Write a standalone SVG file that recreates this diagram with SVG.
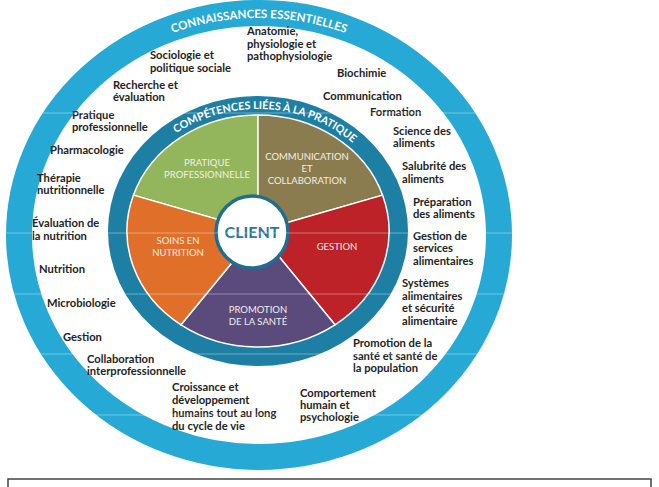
<svg xmlns="http://www.w3.org/2000/svg" width="659" height="487" viewBox="0 0 659 487">
<defs>
<style>
.lbl{font-family:Lato,"Open Sans","Liberation Sans",sans-serif;font-weight:bold;font-size:11.2px;fill:#232323}
.pie{font-family:Lato,"Open Sans","Liberation Sans",sans-serif;font-size:9.5px;fill:#f3f0e2;text-anchor:middle}
.arc{font-family:Lato,"Open Sans","Liberation Sans",sans-serif;font-weight:bold;fill:#ffffff}
.slice{stroke:#ffffff;stroke-width:1.5;stroke-linejoin:round}
.scan{stroke:#ffffff;stroke-width:1;opacity:0.35}
</style>
<path id="outerArc" d="M 23 235 A 236 217 0 0 1 495 235"/>
<path id="innerArc" d="M 121 231 A 137 122 0 0 1 395 231"/>
</defs>
<rect width="659" height="487" fill="#ffffff"/>

<g id="connaissances-ring">
<ellipse cx="259" cy="235" rx="240" ry="222" fill="#ffffff" stroke="#27a9d6" stroke-width="26"/>
<text class="arc" font-size="11.6"><textPath href="#outerArc" startOffset="50%" text-anchor="middle">CONNAISSANCES ESSENTIELLES</textPath></text>
</g>

<g id="competences-ring">
<ellipse cx="258" cy="231" rx="150" ry="135" fill="#1e7fa5"/>
<text class="arc" font-size="10.8"><textPath href="#innerArc" startOffset="52%" text-anchor="middle">COMPÉTENCES LIÉES À LA PRATIQUE</textPath></text>
</g>

<g id="pratique-professionnelle">
<path class="slice" fill="#93b55b" d="M 258 231 L 133.41 195.15 A 131 116 0 0 1 258 115 Z"/>
<text class="pie" x="207" y="166">PRATIQUE</text>
<text class="pie" x="207" y="178">PROFESSIONNELLE</text>
</g>
<g id="communication-collaboration">
<path class="slice" fill="#8b7c50" d="M 258 231 L 258 115 A 131 116 0 0 1 382.59 195.15 Z"/>
<text class="pie" x="307" y="160">COMMUNICATION</text>
<text class="pie" x="307" y="172">ET</text>
<text class="pie" x="307" y="184">COLLABORATION</text>
</g>
<g id="gestion-slice">
<path class="slice" fill="#bc2227" d="M 258 231 L 382.59 195.15 A 131 116 0 0 1 335 324.85 Z"/>
<text class="pie" x="337" y="250">GESTION</text>
</g>
<g id="promotion-sante">
<path class="slice" fill="#5b4a7c" d="M 258 231 L 335 324.85 A 131 116 0 0 1 181 324.85 Z"/>
<text class="pie" x="258" y="313">PROMOTION</text>
<text class="pie" x="258" y="325">DE LA SANTÉ</text>
</g>
<g id="soins-nutrition">
<path class="slice" fill="#e06f2a" d="M 258 231 L 181 324.85 A 131 116 0 0 1 133.41 195.15 Z"/>
<text class="pie" x="178" y="244">SOINS EN</text>
<text class="pie" x="178" y="256">NUTRITION</text>
</g>

<g id="client">
<circle cx="252" cy="232" r="36" fill="#ffffff" stroke="#1f6e91" stroke-width="3.5"/>
<text x="252" y="238" text-anchor="middle" font-family="Lato,'Open Sans','Liberation Sans',sans-serif" font-weight="bold" font-size="16" fill="#2677a6">CLIENT</text>
</g>

<g id="labels">
<text class="lbl" x="247" y="35">Anatomie,</text>
<text class="lbl" x="247" y="47.5">physiologie et</text>
<text class="lbl" x="247" y="60">pathophysiologie</text>
<text class="lbl" x="150" y="59">Sociologie et</text>
<text class="lbl" x="150" y="72">politique sociale</text>
<text class="lbl" x="337" y="77">Biochimie</text>
<text class="lbl" x="113" y="89">Recherche et</text>
<text class="lbl" x="113" y="101">évaluation</text>
<text class="lbl" x="323" y="100">Communication</text>
<text class="lbl" x="370" y="116">Formation</text>
<text class="lbl" x="72" y="119">Pratique</text>
<text class="lbl" x="72" y="131">professionnelle</text>
<text class="lbl" x="393" y="135">Science des</text>
<text class="lbl" x="393" y="147">aliments</text>
<text class="lbl" x="50" y="154">Pharmacologie</text>
<text class="lbl" x="402" y="170">Salubrité des</text>
<text class="lbl" x="402" y="183">aliments</text>
<text class="lbl" x="37" y="182">Thérapie</text>
<text class="lbl" x="37" y="194">nutritionnelle</text>
<text class="lbl" x="413" y="206">Préparation</text>
<text class="lbl" x="413" y="218">des aliments</text>
<text class="lbl" x="32" y="227">Évaluation de</text>
<text class="lbl" x="32" y="240">la nutrition</text>
<text class="lbl" x="413" y="240">Gestion de</text>
<text class="lbl" x="413" y="252">services</text>
<text class="lbl" x="413" y="265">alimentaires</text>
<text class="lbl" x="39" y="273">Nutrition</text>
<text class="lbl" x="402" y="287">Systèmes</text>
<text class="lbl" x="402" y="300">alimentaires</text>
<text class="lbl" x="402" y="312">et sécurité</text>
<text class="lbl" x="402" y="325">alimentaire</text>
<text class="lbl" x="47" y="307">Microbiologie</text>
<text class="lbl" x="63" y="341">Gestion</text>
<text class="lbl" x="353" y="347">Promotion de la</text>
<text class="lbl" x="353" y="360">santé et santé de</text>
<text class="lbl" x="353" y="372">la population</text>
<text class="lbl" x="87" y="363">Collaboration</text>
<text class="lbl" x="87" y="375">interprofessionnelle</text>
<text class="lbl" x="172" y="391">Croissance et</text>
<text class="lbl" x="172" y="404">développement</text>
<text class="lbl" x="172" y="417">humains tout au long</text>
<text class="lbl" x="172" y="430">du cycle de vie</text>
<text class="lbl" x="300" y="397">Comportement</text>
<text class="lbl" x="300" y="409">humain et</text>
<text class="lbl" x="300" y="421">psychologie</text>
</g>

<g id="scanlines">
<line class="scan" x1="0" y1="113" x2="659" y2="113"/>
<line class="scan" x1="0" y1="233" x2="659" y2="233"/>
<line class="scan" x1="0" y1="294" x2="659" y2="294"/>
<line class="scan" x1="0" y1="354" x2="659" y2="354"/>
<line class="scan" x1="0" y1="415" x2="659" y2="415"/>
</g>

<g id="caption-box">
<rect x="8" y="479" width="643" height="20" fill="#ffffff" stroke="#444444" stroke-width="1.5"/>
</g>
</svg>
